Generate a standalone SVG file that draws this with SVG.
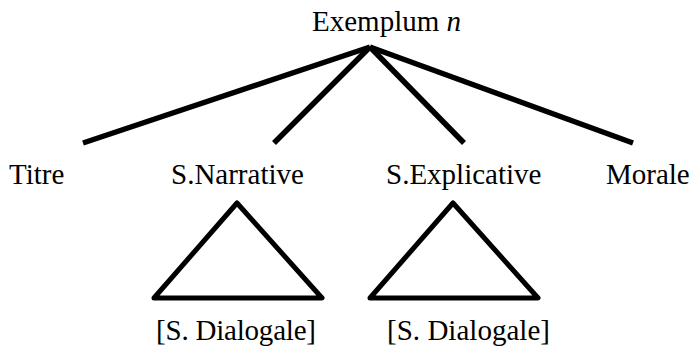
<svg xmlns="http://www.w3.org/2000/svg" width="692" height="347" viewBox="0 0 692 347">
<style>
text{font-family:"Liberation Serif","Times New Roman",serif;font-size:29px;fill:#000}
.ln{stroke:#000;stroke-width:5.5;fill:none;stroke-linecap:butt}
.tri{stroke:#000;stroke-width:5;fill:none;stroke-linejoin:round}
</style>
<rect width="692" height="347" fill="#fff"/>
<g id="root"><text x="312" y="31">Exemplum <tspan font-style="italic">n</tspan></text></g>
<g id="connectors">
<line class="ln" x1="370" y1="47" x2="83" y2="143"/>
<line class="ln" x1="370" y1="47" x2="274" y2="143"/>
<line class="ln" x1="370" y1="47" x2="464" y2="143"/>
<line class="ln" x1="370" y1="47" x2="633" y2="143"/>
</g>
<g id="titre"><text x="9" y="184">Titre</text></g>
<g id="narrative"><text x="171" y="184">S.Narrative</text>
<polygon class="tri" points="237,203 322,298 154,298"/>
<text x="156" y="340" textLength="160" lengthAdjust="spacing">[S. Dialogale]</text></g>
<g id="explicative"><text x="386" y="184">S.Explicative</text>
<polygon class="tri" points="453,203 538,298 370,298"/>
<text x="387" y="340" textLength="163" lengthAdjust="spacing">[S. Dialogale]</text></g>
<g id="morale"><text x="606" y="184">Morale</text></g>
</svg>
